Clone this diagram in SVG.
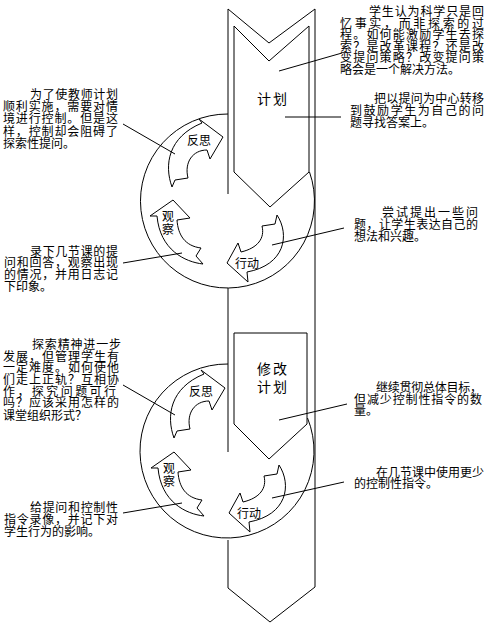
<svg xmlns="http://www.w3.org/2000/svg" width="488" height="627" viewBox="0 0 488 627">
<style>
.ln{fill:none;stroke:#000;stroke-width:1}
.sh{fill:#fff;stroke:#000;stroke-width:1;stroke-linejoin:miter}
text{font-family:"Noto Sans CJK SC","Noto Sans CJK JP",sans-serif;font-size:12px;fill:#000}
.big{font-size:14px}
</style>
<defs>
<path id="a-reflect" class="sh" d="M172,187 C164,165 168,137 202,123 L199,119 L223,137 L210,159 L207,150 C193,150 184,162 188,178 L175,180 Z"/>
<path id="a-observe" class="sh" d="M203,264 C185,262 160,250 157,216 L150,216 L173,200 L190,218 L177,220 C178,235 185,246 201,248 L196,256 Z"/>
<path id="a-act" class="sh" d="M277,215 C290,235 285,265 247,272 L248,282 L227,263 L238,243 L241,252 C258,248 265,238 262,226 L275,224 Z"/>
</defs>
<rect width="488" height="627" fill="#fff"/>

<g id="main-arrow" class="ln">
<path d="M228,194 L228,9 L269,43 L315,9 L315,587 L270,622 L228,588 L228,540"/>
<path d="M228,288 L228,452"/>
</g>

<g id="cycle-1">
<path class="ln" d="M228,114 A87,87 0 1 0 309.5,172"/>
</g>
<g id="plan">
<path class="sh" d="M234,26 L269,61 L309,26 L309,172 L270,207 L234,172 Z"/>
<text class="big" x="257" y="104" textLength="30" lengthAdjust="spacing">计划</text>
</g>
<g id="reflect-1">
<use href="#a-reflect"/>
<text x="187" y="145">反思</text>
</g>
<g id="observe-1">
<use href="#a-observe"/>
<text x="162" y="221">观</text>
<text x="162" y="234">察</text>
</g>
<g id="act-1">
<use href="#a-act"/>
<text x="235" y="268">行动</text>
</g>

<g id="cycle-2">
<path class="ln" d="M228,364 A87,87 0 1 0 307.5,418"/>
</g>
<g id="revised-plan">
<path class="sh" d="M234,333 L307,333 L307,424 L269,459 L234,424 Z"/>
<text class="big" x="257" y="374" textLength="30" lengthAdjust="spacing">修改</text>
<text class="big" x="257" y="392" textLength="30" lengthAdjust="spacing">计划</text>
</g>
<g id="reflect-2" transform="translate(2,251)">
<use href="#a-reflect"/>
<text x="187" y="145">反思</text>
</g>
<g id="observe-2" transform="translate(1,252)">
<use href="#a-observe"/>
<text x="162" y="221">观</text>
<text x="162" y="234">察</text>
</g>
<g id="act-2" transform="translate(2,250)">
<use href="#a-act"/>
<text x="235" y="268">行动</text>
</g>

<g id="connectors" class="ln">
<line x1="123" y1="124" x2="175" y2="154"/>
<line x1="123" y1="263" x2="182" y2="253"/>
<line x1="272" y1="245" x2="344" y2="228"/>
<line x1="279" y1="71" x2="342" y2="53"/>
<line x1="285" y1="117" x2="341" y2="117"/>
<line x1="123" y1="385" x2="175" y2="415"/>
<line x1="123" y1="513" x2="182" y2="503"/>
<line x1="272" y1="498" x2="344" y2="482"/>
<line x1="279" y1="420" x2="347" y2="404"/>
</g>

<g id="note-control">
<text x="30" y="99" textLength="88" lengthAdjust="spacing">为了使教师计划</text>
<text x="3" y="111" textLength="115" lengthAdjust="spacing">顺利实施，需要对情</text>
<text x="3" y="123" textLength="115" lengthAdjust="spacing">境进行控制。但是这</text>
<text x="3" y="136" textLength="115" lengthAdjust="spacing">样，控制却会阻碍了</text>
<text x="3" y="148">探索性提问。</text>
</g>
<g id="note-memory">
<text x="369" y="16" textLength="115" lengthAdjust="spacing">学生认为科学只是回</text>
<text x="340" y="28" textLength="144" lengthAdjust="spacing">忆事实，而非探索的过</text>
<text x="340" y="39" textLength="144" lengthAdjust="spacing">程。如何能激励学生去探</text>
<text x="340" y="51" textLength="144" lengthAdjust="spacing">索？是改革课程？还是改</text>
<text x="340" y="62" textLength="144" lengthAdjust="spacing">变提问策略？改变提问策</text>
<text x="340" y="74">略会是一个解决方法。</text>
</g>
<g id="note-focus">
<text x="374" y="103" textLength="110" lengthAdjust="spacing">把以提问为中心转移</text>
<text x="350" y="115" textLength="134" lengthAdjust="spacing">到鼓励学生为自己的问</text>
<text x="350" y="127">题寻找答案上。</text>
</g>
<g id="note-try">
<text x="382" y="217" textLength="96" lengthAdjust="spacing">尝试提出一些问</text>
<text x="354" y="229" textLength="124" lengthAdjust="spacing">题，让学生表达自己的</text>
<text x="354" y="241">想法和兴趣。</text>
</g>
<g id="note-record">
<text x="30" y="256" textLength="88" lengthAdjust="spacing">录下几节课的提</text>
<text x="4" y="267" textLength="114" lengthAdjust="spacing">问和回答，观察出现</text>
<text x="4" y="279" textLength="114" lengthAdjust="spacing">的情况，并用日志记</text>
<text x="4" y="291">下印象。</text>
</g>
<g id="note-explore">
<text x="32" y="349" textLength="89" lengthAdjust="spacing">探索精神进一步</text>
<text x="3" y="361" textLength="116" lengthAdjust="spacing">发展，但管理学生有</text>
<text x="3" y="372" textLength="116" lengthAdjust="spacing">一定难度。如何使他</text>
<text x="3" y="384" textLength="116" lengthAdjust="spacing">们走上正轨？互相协</text>
<text x="3" y="396" textLength="113" lengthAdjust="spacing">作，探究问题可行</text>
<text x="3" y="407" textLength="116" lengthAdjust="spacing">吗？应该采用怎样的</text>
<text x="3" y="420">课堂组织形式？</text>
</g>
<g id="note-goal">
<text x="376" y="392" textLength="106" lengthAdjust="spacing">继续贯彻总体目标，</text>
<text x="354" y="404" textLength="128" lengthAdjust="spacing">但减少控制性指令的数</text>
<text x="354" y="415">量。</text>
</g>
<g id="note-less">
<text x="376" y="477" textLength="108" lengthAdjust="spacing">在几节课中使用更少</text>
<text x="354" y="488">的控制性指令。</text>
</g>
<g id="note-video">
<text x="30" y="512" textLength="88" lengthAdjust="spacing">给提问和控制性</text>
<text x="4" y="524" textLength="114" lengthAdjust="spacing">指令录像，并记下对</text>
<text x="4" y="536">学生行为的影响。</text>
</g>
</svg>
